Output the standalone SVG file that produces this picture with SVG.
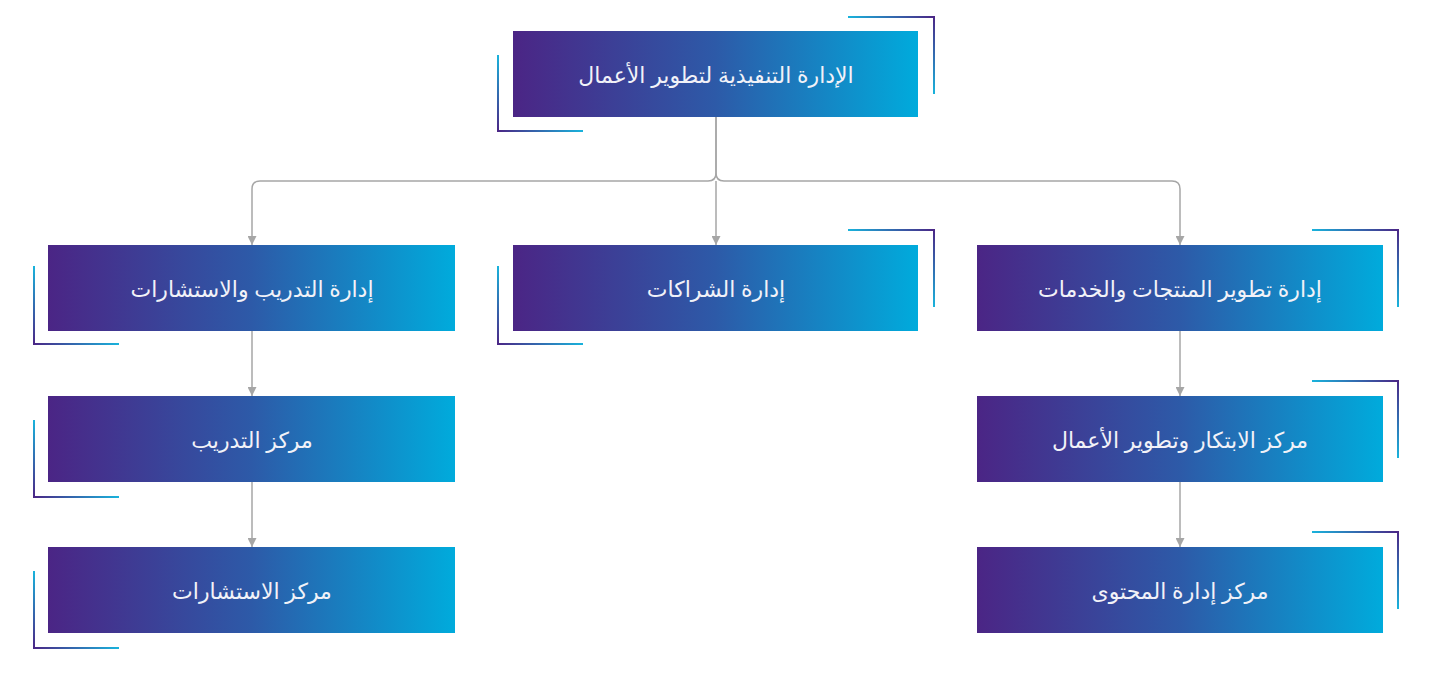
<svg xmlns="http://www.w3.org/2000/svg" width="1447" height="681" viewBox="0 0 1447 681">
<defs>
<linearGradient id="box" x1="0" y1="0" x2="1" y2="0"><stop offset="0" stop-color="#4b2585"/><stop offset="0.5" stop-color="#2d5aa8"/><stop offset="1" stop-color="#00abdc"/></linearGradient>
<linearGradient id="bh" x1="0" y1="0" x2="1" y2="0"><stop offset="0" stop-color="#4b2585"/><stop offset="1" stop-color="#19b3dc"/></linearGradient>
<linearGradient id="bhr" x1="1" y1="0" x2="0" y2="0"><stop offset="0" stop-color="#4b2585"/><stop offset="1" stop-color="#19b3dc"/></linearGradient>
<linearGradient id="bvu" x1="0" y1="1" x2="0" y2="0"><stop offset="0" stop-color="#4b2585"/><stop offset="1" stop-color="#19b3dc"/></linearGradient>
<linearGradient id="bvd" x1="0" y1="0" x2="0" y2="1"><stop offset="0" stop-color="#4b2585"/><stop offset="1" stop-color="#19b3dc"/></linearGradient>
<marker id="ar" markerWidth="8" markerHeight="8" refX="4" refY="6" orient="auto" markerUnits="userSpaceOnUse"><path d="M0,0 L8,0 L4,7 Z" fill="#a6a6a6" transform="rotate(-90 4 4)"/></marker>
<marker id="a2" viewBox="0 0 10 10" refX="10" refY="5" markerWidth="9" markerHeight="9" orient="auto" markerUnits="userSpaceOnUse"><path d="M0,0 L10,5 L0,10 Z" fill="#a6a6a6"/></marker>
</defs>
<style>
.box{fill:url(#box)}
.t{font-family:"Noto Sans","DejaVu Sans",sans-serif;font-size:22px;fill:#f2f2f8;text-anchor:middle;dominant-baseline:central}
.c{fill:none;stroke:#a6a6a6;stroke-width:1.5}
</style>
<g id="connectors">
<path class="c" d="M716,117 V173 Q716,181 708,181 H260 Q252,181 252,189 V245" marker-end="url(#a2)"/>
<path class="c" d="M716,117 V173 Q716,181 724,181 H1172 Q1180,181 1180,189 V245" marker-end="url(#a2)"/>
<path class="c" d="M716,181 V245" marker-end="url(#a2)"/>
<path class="c" d="M252,331 V396" marker-end="url(#a2)"/>
<path class="c" d="M252,482 V547" marker-end="url(#a2)"/>
<path class="c" d="M1180,331 V396" marker-end="url(#a2)"/>
<path class="c" d="M1180,482 V547" marker-end="url(#a2)"/>
</g>
<g id="n1"><rect x="848" y="16" width="87" height="2" fill="url(#bhr)"/><rect x="933" y="16" width="2" height="78" fill="url(#bvd)"/><rect x="497" y="55" width="2" height="77" fill="url(#bvu)"/><rect x="497" y="130" width="86" height="2" fill="url(#bh)"/><rect class="box" x="513" y="31" width="405" height="86"/><text class="t" x="716" y="74">الإدارة التنفيذية لتطوير الأعمال</text></g>
<g id="n2"><rect x="33" y="266" width="2" height="79" fill="url(#bvu)"/><rect x="33" y="343" width="86" height="2" fill="url(#bh)"/><rect class="box" x="48" y="245" width="407" height="86"/><text class="t" x="252" y="288">إدارة التدريب والاستشارات</text></g>
<g id="n3"><rect x="848" y="229" width="87" height="2" fill="url(#bhr)"/><rect x="933" y="229" width="2" height="78" fill="url(#bvd)"/><rect x="497" y="266" width="2" height="79" fill="url(#bvu)"/><rect x="497" y="343" width="86" height="2" fill="url(#bh)"/><rect class="box" x="513" y="245" width="405" height="86"/><text class="t" x="716" y="288">إدارة الشراكات</text></g>
<g id="n4"><rect x="1312" y="229" width="87" height="2" fill="url(#bhr)"/><rect x="1397" y="229" width="2" height="78" fill="url(#bvd)"/><rect class="box" x="977" y="245" width="406" height="86"/><text class="t" x="1180" y="288">إدارة تطوير المنتجات والخدمات</text></g>
<g id="n5"><rect x="33" y="420" width="2" height="78" fill="url(#bvu)"/><rect x="33" y="496" width="86" height="2" fill="url(#bh)"/><rect class="box" x="48" y="396" width="407" height="86"/><text class="t" x="252" y="439">مركز التدريب</text></g>
<g id="n6"><rect x="33" y="571" width="2" height="78" fill="url(#bvu)"/><rect x="33" y="647" width="86" height="2" fill="url(#bh)"/><rect class="box" x="48" y="547" width="407" height="86"/><text class="t" x="252" y="590">مركز الاستشارات</text></g>
<g id="n7"><rect x="1312" y="380" width="87" height="2" fill="url(#bhr)"/><rect x="1397" y="380" width="2" height="78" fill="url(#bvd)"/><rect class="box" x="977" y="396" width="406" height="86"/><text class="t" x="1180" y="439">مركز الابتكار وتطوير الأعمال</text></g>
<g id="n8"><rect x="1312" y="531" width="87" height="2" fill="url(#bhr)"/><rect x="1397" y="531" width="2" height="78" fill="url(#bvd)"/><rect class="box" x="977" y="547" width="406" height="86"/><text class="t" x="1180" y="590">مركز إدارة المحتوى</text></g>
</svg>
